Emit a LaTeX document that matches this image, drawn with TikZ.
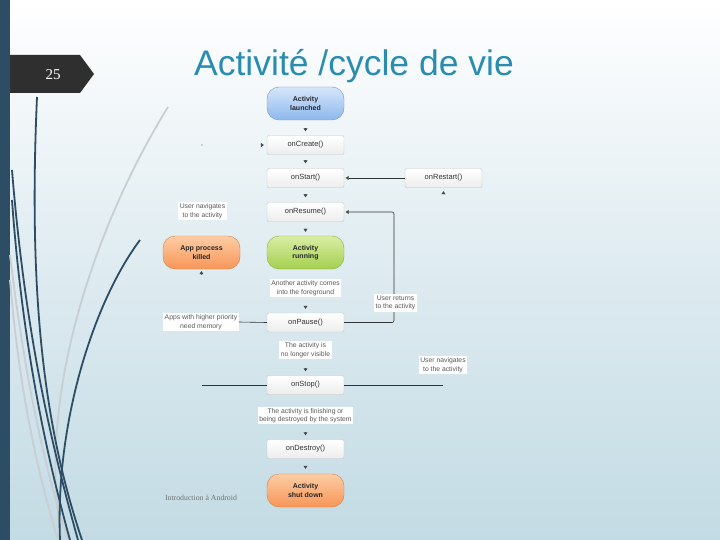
\documentclass[tikz,border=0pt]{standalone}
\usepackage{fontspec}
\setmainfont{Liberation Sans}
\newfontfamily\serifx{Liberation Serif}
\usetikzlibrary{arrows.meta,calc}
\definecolor{bgbot}{RGB}{195,219,228}
\definecolor{slate}{RGB}{44,77,99}
\definecolor{tabc}{RGB}{47,47,47}
\definecolor{titlec}{RGB}{42,140,175}
\definecolor{lgray}{RGB}{200,206,210}
\definecolor{tipc}{RGB}{70,70,70}
\definecolor{boxb}{RGB}{196,196,196}
\definecolor{blueT}{RGB}{214,230,250}
\definecolor{blueB}{RGB}{140,184,238}
\definecolor{blueD}{RGB}{120,150,195}
\definecolor{greenT}{RGB}{218,238,165}
\definecolor{greenB}{RGB}{165,207,79}
\definecolor{greenD}{RGB}{140,175,70}
\definecolor{orT}{RGB}{253,205,165}
\definecolor{orB}{RGB}{247,150,88}
\definecolor{orD}{RGB}{205,130,80}
\tikzset{
  method/.style={draw=boxb, rounded corners=2pt, top color=white, bottom color=black!7,
    minimum width=77pt, minimum height=19pt, inner sep=0pt,
    font=\fontsize{7.5}{9}\selectfont, text=black!80},
  pill/.style={rounded corners=12pt, minimum width=77pt, minimum height=33pt, inner sep=0pt,
    align=center, font=\bfseries\fontsize{7}{8.5}\selectfont, text=black!85},
  bluepill/.style={pill, draw=blueD, top color=blueT, bottom color=blueB},
  greenpill/.style={pill, draw=greenD, top color=greenT, bottom color=greenB},
  orpill/.style={pill, draw=orD, top color=orT, bottom color=orB},
  note/.style={fill=white, inner sep=1.5pt, align=center,
    font=\fontsize{6.8}{8.5}\selectfont, text=black!65},
  conn/.style={draw=black!80, line width=0.6pt},
  tipmark/.style={draw=tipc, line width=0.4pt, -{Triangle[length=3pt,width=4pt,color=tipc]}},
  deco/.style={line width=1.8pt, slate},
  decol/.style={line width=1.8pt, lgray}
}
\begin{document}
\begin{tikzpicture}[x=1pt,y=-1pt]
\useasboundingbox (0,0) rectangle (720,540);
\shade[top color=white, bottom color=bgbot, middle color=white!45!bgbot] (0,0) rectangle (720,540);
% left bar
\fill[slate] (0,0) rectangle (10,540);
% decorative curves
\draw[decol] (168,107) .. controls (95,225) and (35,400) .. (62,540);
\draw[decol] (10,255) .. controls (25,380) and (45,470) .. (68,540);
\draw[decol] (10,280) .. controls (20,400) and (40,480) .. (58,540);
\draw[deco] (37,97) .. controls (28,300) and (45,430) .. (82,540);
\draw[deco] (12,170) .. controls (25,330) and (50,440) .. (78,540);
\draw[deco] (12,200) .. controls (22,340) and (45,450) .. (70,540);
\draw[deco] (140,240) .. controls (95,300) and (55,420) .. (60,540);
% slide number tab
\fill[tabc] (10,55) -- (80,55) -- (94,74) -- (80,93) -- (10,93) -- cycle;
\node[text=white, font=\serifx\fontsize{15}{15}\selectfont] (num) at (53,75) {25};
% title
\node[text=titlec, font=\fontsize{35.5}{38}\selectfont] (title) at (354,66) {Activité /cycle de vie};
% footer
\node[text=black!55, font=\serifx\fontsize{7.8}{9}\selectfont] (foot) at (201,498) {Introduction à Android};

% nodes
\node[bluepill] (launch) at (305.5,103.5) {Activity\\launched};
\node[method] (create) at (305.5,145) {onCreate()};
\node[method] (start) at (305.5,178) {onStart()};
\node[method] (restart) at (443.5,178) {onRestart()};
\node[method] (resume) at (305.5,212) {onResume()};
\node[greenpill] (running) at (305.5,252.5) {Activity\\running};
\node[orpill] (killed) at (201.5,252.5) {App process\\killed};
\node[method] (pause) at (305.5,322.5) {onPause()};
\node[method] (stop) at (305.5,385) {onStop()};
\node[method] (destroy) at (305.5,449) {onDestroy()};
\node[orpill] (shut) at (305.5,490.5) {Activity\\shut down};

% connectors main column (only arrowheads show)
\draw[tipmark, shorten <=8.5pt, shorten >=4pt] (launch.south) -- (create.north);
\draw[tipmark, shorten <=5.5pt, shorten >=5pt] (create.south) -- (start.north);
\draw[tipmark, shorten <=6pt, shorten >=5pt] (start.south) -- (resume.north);
\draw[tipmark, shorten <=8pt, shorten >=4pt] (resume.south) -- (running.north);
\draw[tipmark, shorten <=36.5pt, shorten >=4pt] (running.south) -- (pause.north);
\draw[tipmark, shorten <=35.5pt, shorten >=4pt] (pause.south) -- (stop.north);
\draw[tipmark, shorten <=38pt, shorten >=4pt] (stop.south) -- (destroy.north);
\draw[tipmark, shorten <=7.5pt, shorten >=5pt] (destroy.south) -- (shut.north);

% right side
\draw[conn, -{Triangle[length=3pt,width=4pt,color=tipc]}, shorten >=1.5pt] (restart.west) -- (start.east);
\coordinate (rr) at (394,212);
\draw[conn, -{Triangle[length=3pt,width=4pt,color=tipc]}, shorten >=1.5pt, rounded corners=2pt] (pause.east) -| (rr) -- (resume.east);
\coordinate (sr) at (443,385);
\draw[conn] (stop.east) -- (sr);
\draw[tipmark, shorten <=191pt, shorten >=3.5pt] (sr) -- (restart.south);

% left side
\coordinate (cl) at (202,145);
\coordinate (sl) at (202,385);
\fill[black!60] (cl) circle (0.6pt);
\draw[tipmark, shorten <=59pt, shorten >=3pt] (cl) -- (create.west);
\draw[conn] (stop.west) -- (sl);

% notes (drawn over the connectors)
\node[note] (navl) at (202.5,211) {User navigates\\to the activity};
\node[note] (fg) at (305.5,288) {Another activity comes\\into the foreground};
\node[note] (mem) at (201,322) {Apps with higher priority\\need memory};
\node[note] (ret) at (395.5,303) {User returns\\to the activity};
\node[note] (vis) at (305.5,350) {The activity is\\no longer visible};
\node[note] (navr) at (443,365) {User navigates\\to the activity};
\node[note] (fin) at (305.5,415.5) {The activity is finishing or\\being destroyed by the system};

\draw[conn] (pause.west) -- (mem.east);
\draw[tipmark, shorten <=38pt, shorten >=2pt] (mem.north) -- (killed.south);
\end{tikzpicture}
\end{document}
